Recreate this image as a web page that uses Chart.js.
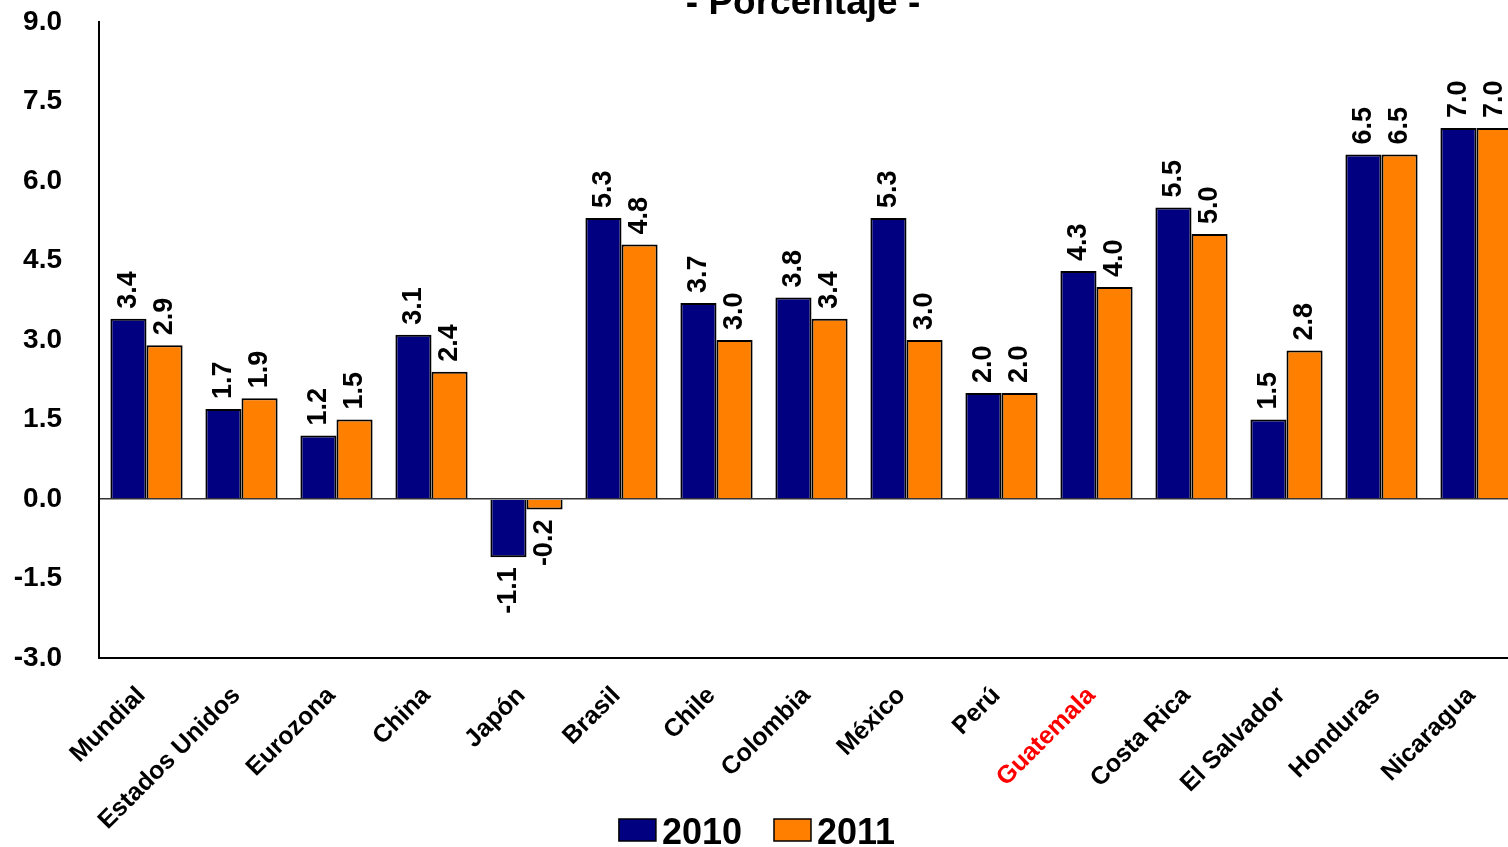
<!DOCTYPE html>
<html>
<head>
<meta charset="utf-8">
<script src="https://cdn.jsdelivr.net/npm/chart.js@4/dist/chart.umd.min.js"></script>
<style>
  html, body { margin: 0; padding: 0; background: #fff; overflow: hidden; }
  #wrap { width: 1508px; height: 847px; overflow: hidden; position: relative; }
  #c { display: block; }
</style>
</head>
<body>
<div id="wrap"><canvas id="c" width="1524" height="847"></canvas></div>
<script>
// Crecimiento económico por país, porcentaje
const categories = ['Mundial', 'Estados Unidos', 'Eurozona', 'China', 'Japón', 'Brasil', 'Chile',
  'Colombia', 'México', 'Perú', 'Guatemala', 'Costa Rica', 'El Salvador', 'Honduras', 'Nicaragua'];
const values2010 = [3.4, 1.7, 1.2, 3.1, -1.1, 5.3, 3.7, 3.8, 5.3, 2.0, 4.3, 5.5, 1.5, 6.5, 7.0];
const values2011 = [2.9, 1.9, 1.5, 2.4, -0.2, 4.8, 3.0, 3.4, 3.0, 2.0, 4.0, 5.0, 2.8, 6.5, 7.0];
const seriesNames = ['2010', '2011'];
const highlighted = 'Guatemala';
const titleText = '- Porcentaje -';
const yTicks = [-3.0, -1.5, 0.0, 1.5, 3.0, 4.5, 6.0, 7.5, 9.0];

const FONT = '"Liberation Sans", Arial, Helvetica, sans-serif';

// Rotated value labels at the end of each bar
const valueLabels = {
  id: 'valueLabels',
  afterDatasetsDraw(chart) {
    const ctx = chart.ctx;
    ctx.save();
    ctx.font = 'bold 27px ' + FONT;
    ctx.fillStyle = '#000';
    ctx.textBaseline = 'middle';
    chart.data.datasets.forEach((ds, di) => {
      const meta = chart.getDatasetMeta(di);
      meta.data.forEach((bar, i) => {
        const v = ds.data[i];
        const txt = v.toFixed(1);
        ctx.save();
        if (v >= 0) {
          ctx.translate(bar.x, bar.y - 10);
          ctx.rotate(-Math.PI / 2);
          ctx.textAlign = 'left';
        } else {
          ctx.translate(bar.x, bar.y + 10);
          ctx.rotate(-Math.PI / 2);
          ctx.textAlign = 'right';
        }
        ctx.fillText(txt, 0, 0);
        ctx.restore();
      });
    });
    ctx.restore();
  }
};

// Title and legend
const decorations = {
  id: 'decorations',
  afterDraw(chart) {
    const ctx = chart.ctx;
    ctx.save();
    ctx.fillStyle = '#000';
    ctx.font = 'bold 37px ' + FONT;
    ctx.textAlign = 'center';
    ctx.textBaseline = 'alphabetic';
    ctx.fillText(titleText, 803, 14);

    ctx.font = 'bold 36px ' + FONT;
    ctx.textAlign = 'left';
    const boxW = 37, boxH = 22, gap = 6, itemGap = 32;
    const widths = chart.data.datasets.map(d => ctx.measureText(d.label).width);
    let total = 0;
    widths.forEach((w, i) => { total += boxW + gap + w + (i ? itemGap : 0); });
    let x = 757 - total / 2;
    chart.data.datasets.forEach((d, i) => {
      ctx.fillStyle = d.backgroundColor;
      ctx.fillRect(x, 819, boxW, boxH);
      ctx.lineWidth = 1.5;
      ctx.strokeStyle = '#000';
      ctx.strokeRect(x, 819, boxW, boxH);
      ctx.fillStyle = '#000';
      ctx.fillText(d.label, x + boxW + gap, 844);
      x += boxW + gap + widths[i] + itemGap;
    });
    ctx.restore();
  }
};

new Chart(document.getElementById('c'), {
  type: 'bar',
  data: {
    labels: categories,
    datasets: [
      { label: seriesNames[0], data: values2010, backgroundColor: '#000080', borderColor: '#000', borderWidth: 2 },
      { label: seriesNames[1], data: values2011, backgroundColor: '#FF8000', borderColor: '#000', borderWidth: 2 }
    ]
  },
  options: {
    responsive: false,
    animation: false,
    layout: { padding: { top: 22, left: 0, right: 0, bottom: 0 } },
    datasets: { bar: { categoryPercentage: 0.76, barPercentage: 1.0 } },
    plugins: { legend: { display: false }, tooltip: { enabled: false }, title: { display: false } },
    scales: {
      x: {
        grid: { display: false },
        border: { display: true, color: '#000', width: 2 },
        ticks: {
          minRotation: 45, maxRotation: 45, autoSkip: false, padding: 15, labelOffset: -5,
          font: { family: FONT, size: 25, weight: 'bold' },
          color: c => categories[c.index] === highlighted ? '#FF0000' : '#000'
        },
        afterFit: s => { s.height = 189; s.paddingLeft = 0; s.paddingRight = 0; }
      },
      y: {
        min: -3, max: 9,
        afterBuildTicks: s => { s.ticks = yTicks.map(v => ({ value: v })); },
        grid: {
          drawTicks: false,
          lineWidth: 1.5,
          color: c => (c.tick && c.tick.value === 0) ? '#333' : 'rgba(0,0,0,0)'
        },
        border: { display: true, color: '#000', width: 2 },
        ticks: {
          padding: 37,
          font: { family: FONT, size: 28, weight: 'bold' },
          color: '#000',
          callback: v => Number(v).toFixed(1)
        },
        afterFit: s => { s.width = 99; s.paddingTop = 0; s.paddingBottom = 0; }
      }
    }
  },
  plugins: [valueLabels, decorations]
});
</script>
</body>
</html>
